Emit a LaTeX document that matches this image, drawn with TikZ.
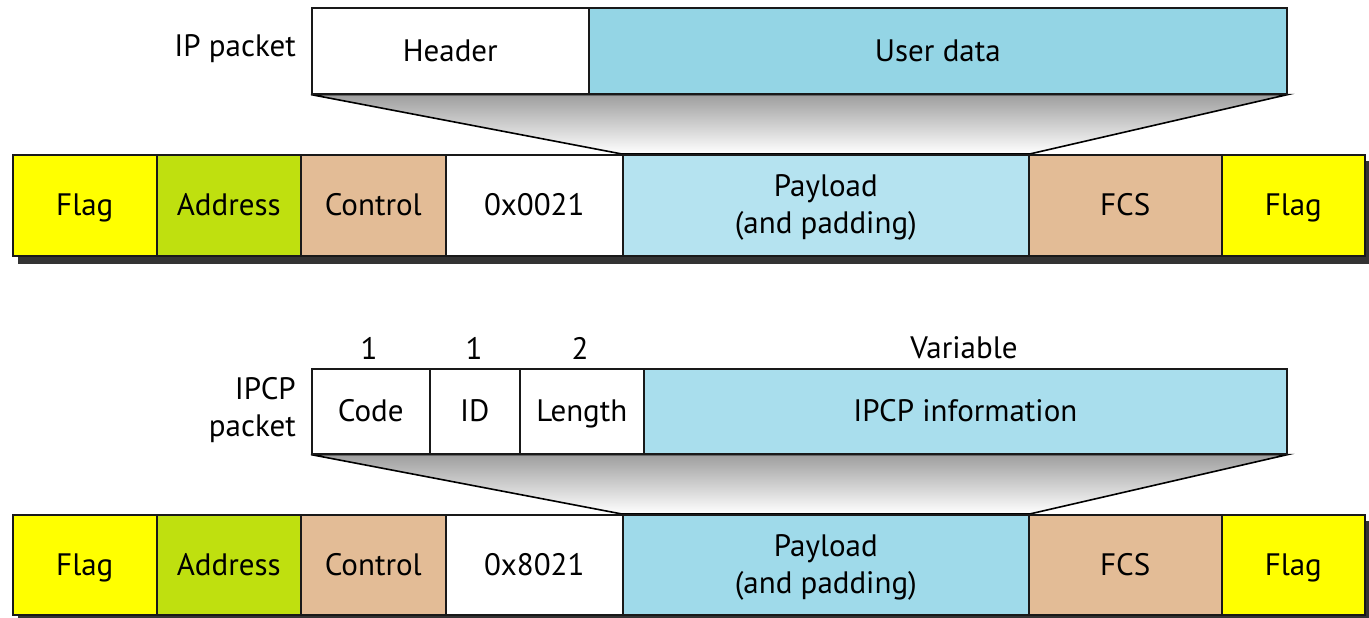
\documentclass[tikz,border=0pt]{standalone}
\usepackage{fontspec}
\setmainfont{PT Sans}
\usetikzlibrary{calc}
\pgfdeclarelayer{background}
\pgfsetlayers{background,main}
\definecolor{flagc}{HTML}{FFFF00}
\definecolor{addrc}{HTML}{BFE00F}
\definecolor{ctrlc}{HTML}{E3BC96}
\definecolor{payA}{HTML}{B5E3F0}
\definecolor{payB}{HTML}{9FDAEA}
\definecolor{userc}{HTML}{94D5E5}
\definecolor{infoc}{HTML}{A9DEED}
\definecolor{shadowc}{HTML}{333333}
\tikzset{
  cell/.style={draw=black!90, line width=1.6pt, rectangle, inner sep=0pt,
    anchor=north west, align=center, font=\fontsize{31}{37}\selectfont},
  field/.style={cell, text height=27pt, text depth=6pt},
  twoline/.style={cell, text height=29pt, text depth=7pt},
  fsz/.style 2 args={minimum width=#1pt, minimum height=#2pt},
  lbl/.style={inner sep=0pt, align=right, font=\fontsize{31}{37}\selectfont},
  size/.style={inner sep=0pt, font=\fontsize{31}{36}\selectfont},
  funnel/.style={draw=black, line width=1.6pt, top color=black!38, bottom color=white},
}
\begin{document}
\begin{tikzpicture}[x=1pt, y=-1pt]
\useasboundingbox (0,0) rectangle (1369,618);

% ---- IP packet ----
\node[field, fill=white, fsz={277}{86}] (iphdr) at (311,7) {Header};
\node[field, fill=userc, fsz={698}{86}] (ipdata) at (588,7) {User data};
\node[lbl, anchor=east] (iplbl) at (296,49) {IP packet};

% ---- PPP frame carrying IP ----
\node[field, fill=flagc, fsz={144}{101}] (af) at (12,154) {Flag};
\node[field, fill=addrc, fsz={144}{101}] (aa) at (156,154) {Address};
\node[field, fill=ctrlc, fsz={145}{101}] (ac) at (300,154) {Control};
\node[field, fill=white, fsz={177}{101}] (ap) at (445,154) {0x0021};
\node[cell, fill=payA, fsz={406}{101}] (ay) at (622,154) {\rule{0pt}{27pt}Payload\\(and padding)};
\node[field, fill=ctrlc, fsz={193}{101}] (as) at (1028,154) {FCS};
\node[field, fill=flagc, fsz={143}{101}] (ag) at (1221,154) {Flag};

% ---- IPCP packet ----
\node[field, fill=white, fsz={118}{85}] (code) at (311,368) {Code};
\node[field, fill=white, fsz={90}{85}] (pid) at (429,368) {ID};
\node[field, fill=white, fsz={124}{85}] (plen) at (519,368) {Length};
\node[field, fill=infoc, fsz={643}{85}] (pinfo) at (643,368) {IPCP information};
\node[lbl, anchor=east] (ipcplbl) at (296,410) {IPCP\\packet};
\node[size] (s1) at (369,348) {1};
\node[size] (s2) at (474,348) {1};
\node[size] (s3) at (580,348) {2};
\node[size] (s4) at (964,348) {Variable};

% ---- PPP frame carrying IPCP ----
\node[field, fill=flagc, fsz={144}{100}] (bf) at (12,514) {Flag};
\node[field, fill=addrc, fsz={144}{100}] (ba) at (156,514) {Address};
\node[field, fill=ctrlc, fsz={145}{100}] (bc) at (300,514) {Control};
\node[field, fill=white, fsz={177}{100}] (bp) at (445,514) {0x8021};
\node[cell, fill=payB, fsz={406}{100}] (by) at (622,514) {\rule{0pt}{27pt}Payload\\(and padding)};
\node[field, fill=ctrlc, fsz={193}{100}] (bs) at (1028,514) {FCS};
\node[field, fill=flagc, fsz={143}{100}] (bg) at (1221,514) {Flag};

\begin{pgfonlayer}{background}
  % packets opening into the payload field
  \path[funnel] (iphdr.south west) -- (ay.north west) -- (ay.north east)
    -- (ipdata.south east) -- cycle;
  \path[funnel] (code.south west) -- (by.north west) -- (by.north east)
    -- (pinfo.south east) -- cycle;
  % frame shadows
  \fill[shadowc] ($(af.north west)+(6,7)$) rectangle ($(ag.south east)+(6,7)$);
  \fill[shadowc] ($(bf.north west)+(6,7)$) rectangle ($(bg.south east)+(6,7)$);
\end{pgfonlayer}
\end{tikzpicture}
\end{document}
